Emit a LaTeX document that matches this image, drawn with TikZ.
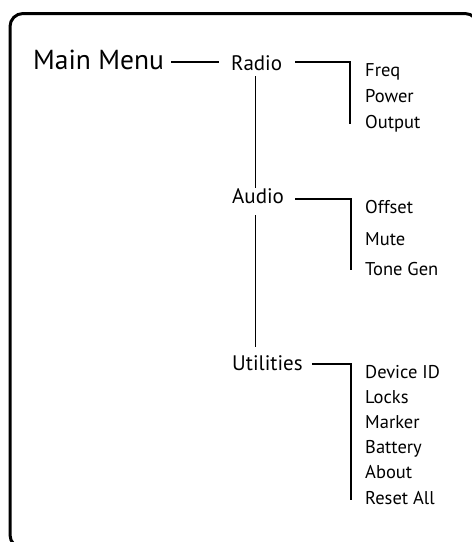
\documentclass[tikz,border=0pt]{standalone}
\usepackage{fontspec}
\setmainfont{PT Sans}
\usetikzlibrary{calc}
\tikzset{
  lbl/.style={anchor=base west, inner sep=0pt, font=\fontsize{#1}{#1}\selectfont},
  conn/.style={line width=1.4pt},
}
\begin{document}
\begin{tikzpicture}[x=1pt,y=-1pt]
\useasboundingbox (0,0) rectangle (472,542);
\draw[line width=3pt, rounded corners=13pt] (10,13.5) rectangle (478,548);
% main nodes
\node[lbl=27.5] (mm) at (33,69) {Main Menu};
\node[lbl=21] (radio) at (231,70) {Radio};
\node[lbl=21] (audio) at (232,203) {Audio};
\node[lbl=21] (util) at (232,370) {Utilities};
% radio items
\node[lbl=18.5] (freq) at (365,76) {Freq};
\node[lbl=18.5] (power) at (365,102) {Power};
\node[lbl=18.5] (output) at (365,128) {Output};
% audio items
\node[lbl=18.5] (offset) at (365,213) {Offset};
\node[lbl=18.5] (mute) at (365,245) {Mute};
\node[lbl=18.5] (tone) at (365,275) {Tone Gen};
% utilities items
\node[lbl=18.5] (dev) at (365,378) {Device ID};
\node[lbl=18.5] (locks) at (365,403) {Locks};
\node[lbl=18.5] (marker) at (365,428) {Marker};
\node[lbl=18.5] (batt) at (365,453) {Battery};
\node[lbl=18.5] (about) at (365,478) {About};
\node[lbl=18.5] (reset) at (365,504) {Reset All};
% connectors
\draw[conn] ($(mm.base east)+(7,-7)$) -- ($(radio.base west)+(-12,-8)$);
\coordinate (rb) at ($(output.base west)+(-15,-4)$);
\draw[conn] ($(radio.base east)+(13,-8)$) -| (rb);
\coordinate (ab) at ($(tone.base west)+(-14,-5)$);
\draw[conn] ($(audio.base east)+(11,-4)$) -| (ab);
\coordinate (ub) at ($(reset.base west)+(-14,-4)$);
\draw[conn] ($(util.base east)+(9,-6)$) -| (ub);
\draw[conn] (radio.base) ++(-1,6) coordinate (s1) -- (s1 |- audio.north);
\draw[conn] (audio.base) ++(-2.5,12) coordinate (s2) -- ($(s2 |- util.north)+(0,-8)$);
\end{tikzpicture}
\end{document}
